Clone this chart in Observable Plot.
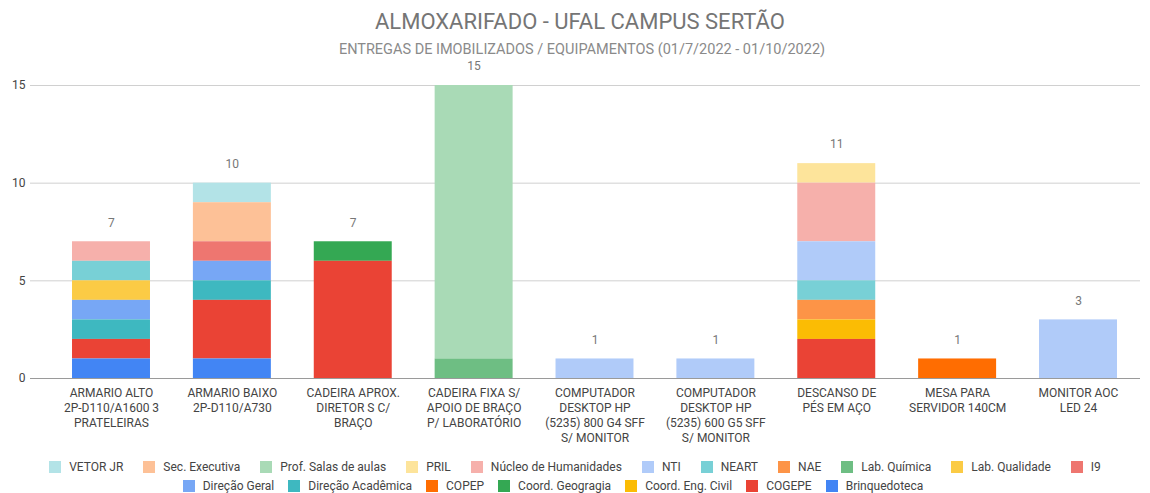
<!DOCTYPE html>
<html>
<head>
<meta charset="utf-8">
<script src="https://cdn.jsdelivr.net/npm/d3@7"></script>
<script src="https://cdn.jsdelivr.net/npm/@observablehq/plot@0.6"></script>
<style>
  body { margin: 0; background: #fff; font-family: Roboto, "Noto Sans", sans-serif; }
  #wrap { width: 1150px; }
  .title { text-align: center; padding-left: 10px; padding-top: 9px; font-size: 22px; line-height: 26px; height: 26px; color: #757575; }
  .subtitle { text-align: center; padding-left: 14px; margin-top: 7px; font-size: 14.5px; line-height: 16px; color: #8a8a8a; height: 16px; }
  #chart svg { overflow: visible; display: block; }
  .legend { padding-top: 4px; font-size: 12px; color: #444; }
  .row { display: flex; justify-content: center; height: 19px; align-items: center; }
  .row1 .item { margin: 0 10px; }
  .row2 { transform: translateX(-22px); }
  .row2 .item { margin: 0 7px; }
  .item { display: flex; align-items: center; }
  .sw { width: 12px; height: 12px; margin-right: 8px; }
</style>
</head>
<body>
<div id="wrap">
  <div class="title">ALMOXARIFADO - UFAL CAMPUS SERTÃO</div>
  <div class="subtitle">ENTREGAS DE IMOBILIZADOS / EQUIPAMENTOS (01/7/2022 - 01/10/2022)</div>
  <div id="chart"></div>
  <div class="legend" id="legend"></div>
</div>
<script>
// Categories (x axis)
const products = [
  "ARMARIO ALTO\n2P-D110/A1600 3\nPRATELEIRAS",
  "ARMARIO BAIXO\n2P-D110/A730",
  "CADEIRA APROX.\nDIRETOR S C/\nBRAÇO",
  "CADEIRA FIXA S/\nAPOIO DE BRAÇO\nP/ LABORATÓRIO",
  "COMPUTADOR\nDESKTOP HP\n(5235) 800 G4 SFF\nS/ MONITOR",
  "COMPUTADOR\nDESKTOP HP\n(5235) 600 G5 SFF\nS/ MONITOR",
  "DESCANSO DE\nPÉS EM AÇO",
  "MESA PARA\nSERVIDOR 140CM",
  "MONITOR AOC\nLED 24"
];

// Series (legend order)
const series = [
  "VETOR JR", "Sec. Executiva", "Prof. Salas de aulas", "PRIL", "Núcleo de Humanidades",
  "NTI", "NEART", "NAE", "Lab. Química", "Lab. Qualidade", "I9",
  "Direção Geral", "Direção Acadêmica", "COPEP", "Coord. Geogragia", "Coord. Eng. Civil",
  "COGEPE", "Brinquedoteca"
];
const colors = [
  "#b3e3e7", "#fdc197", "#a9dab6", "#fde49b", "#f6b0ab",
  "#b0cbf9", "#78d0d6", "#fd9447", "#6ebe83", "#fbcb45", "#ee7670",
  "#77a7f5", "#3eb8c0", "#ff6d01", "#34a853", "#fbbc04",
  "#ea4335", "#4285f4"
];

// Values per series, one entry per product (same order as products)
const vetorJr        = [0, 1, 0, 0, 0, 0, 0, 0, 0];
const secExecutiva   = [0, 2, 0, 0, 0, 0, 0, 0, 0];
const profSalas      = [0, 0, 0, 14, 0, 0, 0, 0, 0];
const pril           = [0, 0, 0, 0, 0, 0, 1, 0, 0];
const nucleoHuman    = [1, 0, 0, 0, 0, 0, 3, 0, 0];
const nti            = [0, 0, 0, 0, 1, 1, 2, 0, 3];
const neart          = [1, 0, 0, 0, 0, 0, 1, 0, 0];
const nae            = [0, 0, 0, 0, 0, 0, 1, 0, 0];
const labQuimica     = [0, 0, 0, 1, 0, 0, 0, 0, 0];
const labQualidade   = [1, 0, 0, 0, 0, 0, 0, 0, 0];
const i9             = [0, 1, 0, 0, 0, 0, 0, 0, 0];
const direcaoGeral   = [1, 1, 0, 0, 0, 0, 0, 0, 0];
const direcaoAcad    = [1, 1, 0, 0, 0, 0, 0, 0, 0];
const copep          = [0, 0, 0, 0, 0, 0, 0, 1, 0];
const coordGeografia = [0, 0, 1, 0, 0, 0, 0, 0, 0];
const coordEngCivil  = [0, 0, 0, 0, 0, 0, 1, 0, 0];
const cogepe         = [1, 3, 6, 0, 0, 0, 2, 0, 0];
const brinquedoteca  = [1, 1, 0, 0, 0, 0, 0, 0, 0];

const seriesValues = [
  vetorJr, secExecutiva, profSalas, pril, nucleoHuman, nti, neart, nae,
  labQuimica, labQualidade, i9, direcaoGeral, direcaoAcad, copep,
  coordGeografia, coordEngCivil, cogepe, brinquedoteca
];

const table = [];
series.forEach((s, si) => {
  products.forEach((p, pi) => {
    const v = seriesValues[si][pi];
    if (v > 0) table.push({product: p, series: s, value: v});
  });
});

const stackOrder = series.slice().reverse(); // bottom-up

const chart = Plot.plot({
  width: 1150,
  height: 395,
  marginTop: 27,
  marginLeft: 30,
  marginRight: 10,
  marginBottom: 75,
  style: {fontFamily: "Roboto, 'Noto Sans', sans-serif", fontSize: "12px", color: "#444", overflow: "visible"},
  x: {domain: products, padding: 0.355, paddingOuter: 0.178, insetLeft: 20.5, insetRight: 1.5, round: false, label: null},
  y: {domain: [0, 15], label: null},
  color: {domain: series, range: colors},
  marks: [
    Plot.ruleY([5, 10, 15], {stroke: "#d0d0d0", strokeWidth: 1}),
    Plot.axisY({ticks: [0, 5, 10, 15], tickSize: 0, tickPadding: 5, fontSize: 12, fill: "#444", label: null}),
    Plot.axisX({tickSize: 0, tickPadding: 8, fontSize: 12, lineHeight: 1.25, fill: "#444", label: null}),
    Plot.barY(table, {x: "product", y: "value", fill: "series", order: stackOrder}),
    Plot.ruleY([0], {stroke: "#9a9a9a", strokeWidth: 1}),
    Plot.text(table, Plot.groupX({y: "sum", text: "sum"}, {x: "product", y: "value", text: "value", dy: -19, fill: "#777", fontSize: 12}))
  ]
});
document.getElementById("chart").appendChild(chart);

// Legend
const legend = document.getElementById("legend");
const rows = [series.slice(0, 11), series.slice(11)];
rows.forEach((r, ri) => {
  const row = document.createElement("div");
  row.className = "row row" + (ri + 1);
  r.forEach(s => {
    const it = document.createElement("div");
    it.className = "item";
    const sw = document.createElement("div");
    sw.className = "sw";
    sw.style.background = colors[series.indexOf(s)];
    const tx = document.createElement("span");
    tx.textContent = s;
    it.appendChild(sw);
    it.appendChild(tx);
    row.appendChild(it);
  });
  legend.appendChild(row);
});
</script>
</body>
</html>
